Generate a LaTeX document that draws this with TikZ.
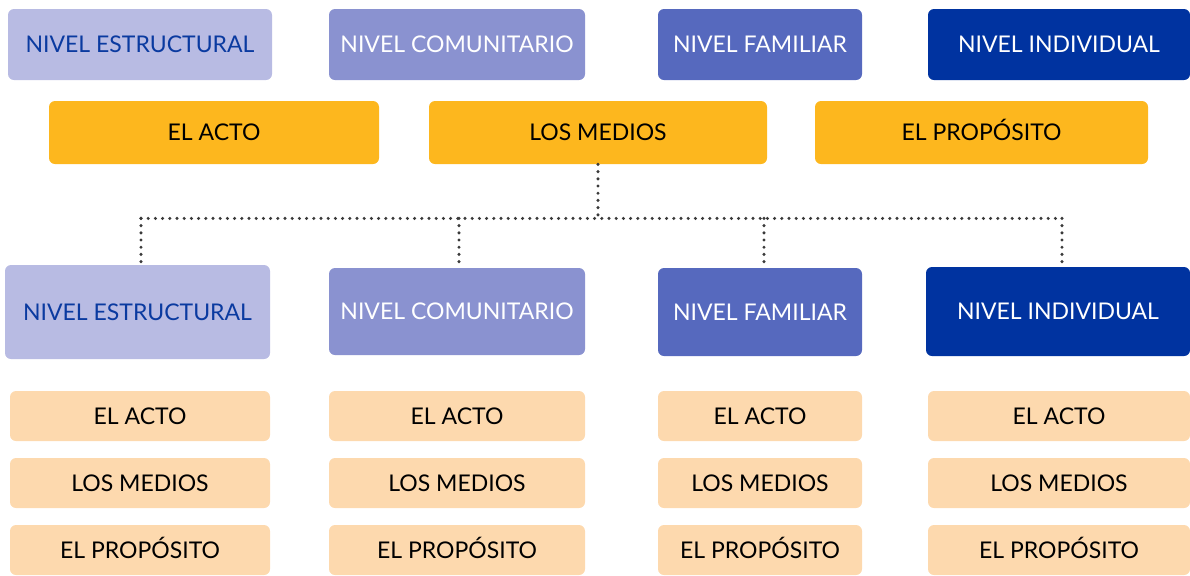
\documentclass[tikz,border=0pt]{standalone}
\usepackage{fontspec}
\setmainfont{Lato}
\usepackage{tikz}
\usetikzlibrary{calc, positioning}

\definecolor{estrfill}{HTML}{B8BBE3}
\definecolor{estrtext}{HTML}{0A3AA0}
\definecolor{comunfill}{HTML}{8A92D0}
\definecolor{famfill}{HTML}{5669BE}
\definecolor{indfill}{HTML}{0033A0}
\definecolor{orangefill}{HTML}{FDB71E}
\definecolor{peachfill}{HTML}{FDD9AE}
\definecolor{dotgray}{HTML}{3A3A3A}

\begin{document}
\begin{tikzpicture}[
		x=0.5pt, y=-0.5pt,
		box/.style={rectangle, rounded corners=3pt, inner sep=0pt, text height=8.2pt, text depth=0pt, font=\fontsize{11.5}{13}\selectfont},
		estr/.style={box, fill=estrfill, text=estrtext},
		comun/.style={box, fill=comunfill, text=white},
		fam/.style={box, fill=famfill, text=white},
		ind/.style={box, fill=indfill, text=white},
		acto/.style={box, fill=orangefill, text=black, minimum height=31.5pt},
		sub/.style={box, fill=peachfill, text=black, minimum height=25pt},
		link/.style={dotgray, line width=1.7pt, line cap=round, dash pattern=on 0pt off 3.6pt}
		]

		\useasboundingbox (0,0) rectangle (1190,575);

		% --- niveles arriba ---
		\node[estr, minimum width=132pt, minimum height=35.5pt] (tE) at (140, 44.5) {NIVEL ESTRUCTURAL};
		\node[comun, minimum width=128pt, minimum height=35.5pt] (tC) at (457, 44.5) {NIVEL COMUNITARIO};
		\node[fam, minimum width=102pt, minimum height=35.5pt] (tF) at (760, 44.5) {NIVEL FAMILIAR};
		\node[ind, minimum width=131pt, minimum height=35.5pt] (tI) at (1059, 44.5) {NIVEL INDIVIDUAL};

		% --- acto, medios, proposito ---
		\node[acto, minimum width=165pt] (aActo) at (214, 132.5) {EL ACTO};
		\node[acto, minimum width=169pt] (aMedios) at (598, 132.5) {LOS MEDIOS};
		\node[acto, minimum width=166.5pt] (aProp) at (981.5, 132.5) {EL PROPÓSITO};

		% --- niveles abajo ---
		\node[estr, minimum width=132.5pt, minimum height=47pt] (lE) at (137.5, 312) {NIVEL ESTRUCTURAL};
		\node[comun, minimum width=128pt, minimum height=43.5pt] (lC) at (457, 311.5) {NIVEL COMUNITARIO};
		\node[fam, minimum width=102pt, minimum height=44pt] (lF) at (760, 312) {NIVEL FAMILIAR};
		\node[ind, minimum width=132pt, minimum height=44.5pt] (lI) at (1058, 311.5) {NIVEL INDIVIDUAL};

		% --- sub cajas ---
		\foreach \col/\cx/\w in {E/140/130pt, C/457/128pt, F/760/102pt, I/1059/131pt}{
			\node[sub, minimum width=\w] (\col1) at (\cx, 416) {EL ACTO};
			\node[sub, minimum width=\w] (\col2) at (\cx, 483) {LOS MEDIOS};
			\node[sub, minimum width=\w] (\col3) at (\cx, 550) {EL PROPÓSITO};
		}

		% --- conectores ---
		\coordinate (jn) at ($(aMedios.south)+(0,54)$);
		\draw[link] (aMedios.south) -- (jn);
		\draw[link] ($(lE.north |- jn)+(3.5,0)$) -- ($(lI.north |- jn)+(4,0)$);
		\draw[link] ($(lE.north |- jn)+(3.5,0)$) -- ($(lE.north)+(3.5,0)$);
		\draw[link] ($(lC.north |- jn)+(2,0)$) -- ($(lC.north)+(2,0)$);
		\draw[link] ($(lF.north |- jn)+(4,0)$) -- ($(lF.north)+(4,0)$);
		\draw[link] ($(lI.north |- jn)+(4,0)$) -- ($(lI.north)+(4,0)$);

	\end{tikzpicture}
\end{document}
